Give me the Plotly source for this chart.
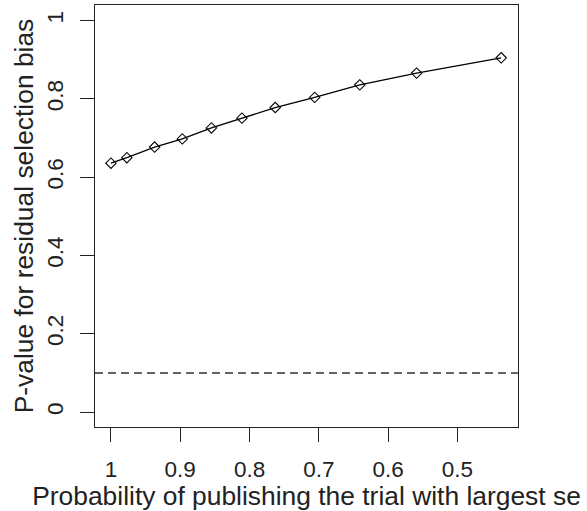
import plotly.graph_objects as go

# Data
prob_publish = [1.0, 0.977, 0.937, 0.897, 0.855, 0.811, 0.763, 0.706, 0.641, 0.559, 0.437]
p_values = [0.636, 0.650, 0.677, 0.698, 0.726, 0.751, 0.778, 0.804, 0.836, 0.866, 0.905]
threshold = 0.1
x_ticks = [1, 0.9, 0.8, 0.7, 0.6, 0.5]
x_tick_labels = ["1", "0.9", "0.8", "0.7", "0.6", "0.5"]
y_ticks = [0, 0.2, 0.4, 0.6, 0.8, 1]
y_tick_labels = ["0", "0.2", "0.4", "0.6", "0.8", "1"]

FONT = "Liberation Sans, Arial, sans-serif"
AX = "#222222"

fig = go.Figure()
fig.add_trace(go.Scatter(
    x=prob_publish, y=p_values, mode="lines+markers",
    line=dict(color="black", width=1.3),
    marker=dict(symbol="diamond-open", size=8, color="black", line=dict(width=1.1)),
    showlegend=False,
))
fig.add_hline(y=threshold, line=dict(color="#333333", width=1.5, dash="8px,5px"))

fig.update_layout(
    width=587, height=511,
    margin=dict(l=95, r=69, t=5, b=84),
    paper_bgcolor="white", plot_bgcolor="white",
    font=dict(family=FONT, size=23, color="#222222"),
)
fig.update_xaxes(
    range=[1.023, 0.4127], tickvals=x_ticks, ticktext=x_tick_labels,
    showgrid=False, zeroline=False,
    showline=True, mirror=True, linecolor=AX, linewidth=1.4,
    ticks="outside", ticklen=14, tickwidth=1.4, tickcolor=AX,
    tickfont=dict(size=22.5), ticklabelstandoff=8,
    title=dict(text="Probability of publishing the trial with largest se", standoff=0,
               font=dict(size=26.4)),
)
fig.update_yaxes(
    range=[-0.038, 1.040], tickvals=y_ticks, ticktext=y_tick_labels,
    showgrid=False, zeroline=False,
    showline=True, mirror=True, linecolor=AX, linewidth=1.4,
    ticks="outside", ticklen=14, tickwidth=1.4, tickcolor=AX,
    tickangle=-90, tickfont=dict(size=22.5), ticklabelstandoff=8,
    title=dict(text="P-value for residual selection bias", standoff=1,
               font=dict(size=26.4)),
)

fig.write_html("out.html")
